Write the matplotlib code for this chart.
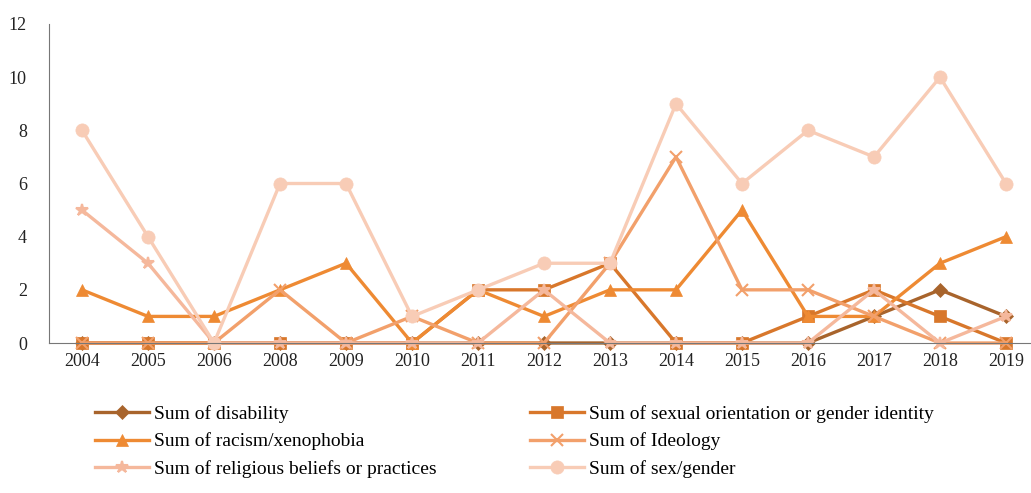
import matplotlib.pyplot as plt

years = ['2004', '2005', '2006', '2008', '2009', '2010', '2011', '2012',
         '2013', '2014', '2015', '2016', '2017', '2018', '2019']

disability = [0, 0, 0, 0, 0, 0, 0, 0, 0, 0, 0, 0, 1, 2, 1]
sexual_orientation = [0, 0, 0, 0, 0, 0, 2, 2, 3, 0, 0, 1, 2, 1, 0]
racism = [2, 1, 1, 2, 3, 0, 2, 1, 2, 2, 5, 1, 1, 3, 4]
ideology = [0, 0, 0, 2, 0, 1, 0, 0, 3, 7, 2, 2, 1, 0, 0]
religious = [5, 3, 0, 0, 0, 0, 0, 2, 0, 0, 0, 0, 2, 0, 1]
sex_gender = [8, 4, 0, 6, 6, 1, 2, 3, 3, 9, 6, 8, 7, 10, 6]

series = [
    ('Sum of disability', disability, '#A8642C', 'D', 7),
    ('Sum of sexual orientation or gender identity', sexual_orientation, '#D8772B', 's', 8.5),
    ('Sum of racism/xenophobia', racism, '#EE8A33', '^', 9),
    ('Sum of Ideology', ideology, '#F2A06B', 'x', 9),
    ('Sum of religious beliefs or practices', religious, '#F5B89C', '*', 9),
    ('Sum of sex/gender', sex_gender, '#F8CCB6', 'o', 9.5),
]

plt.rcParams['font.family'] = ['Liberation Serif', 'DejaVu Serif']

fig = plt.figure(figsize=(10.31, 4.93), dpi=100)
ax = fig.add_axes([49 / 1031, 1 - 343 / 493, 990 / 1031, 319 / 493])

x = list(range(len(years)))
handles = {}
for name, vals, color, marker, ms in series:
    h, = ax.plot(x, vals, color=color, lw=2.4, marker=marker, markersize=ms,
                 markeredgewidth=1.5 if marker in 'x*' else 0.5,
                 markeredgecolor=color, label=name, clip_on=False)
    handles[name] = h

ax.set_xlim(-0.5, len(years) - 0.5)
ax.set_ylim(0, 12)
ax.set_yticks(range(0, 13, 2))
ax.set_xticks(x)
ax.set_xticklabels(years)
ax.tick_params(length=0, labelsize=13, colors='#222222')
ax.tick_params(axis='y', pad=16)
ax.tick_params(axis='x', pad=7)
for s in ['top', 'right']:
    ax.spines[s].set_visible(False)
ax.spines['left'].set_color('#777777')
ax.spines['bottom'].set_color('#777777')

col1 = ['Sum of disability', 'Sum of racism/xenophobia',
        'Sum of religious beliefs or practices']
col2 = ['Sum of sexual orientation or gender identity',
        'Sum of Ideology', 'Sum of sex/gender']
for names, left in [(col1, 95), (col2, 530)]:
    fig.legend([handles[n] for n in names], names, frameon=False,
               loc='upper left', bbox_to_anchor=(left / 1031, 1 - 405 / 493),
               fontsize=14, handlelength=2.8, handletextpad=0.25,
               labelspacing=0.5, borderpad=0, borderaxespad=0)

fig.savefig('out.png', dpi=100)
